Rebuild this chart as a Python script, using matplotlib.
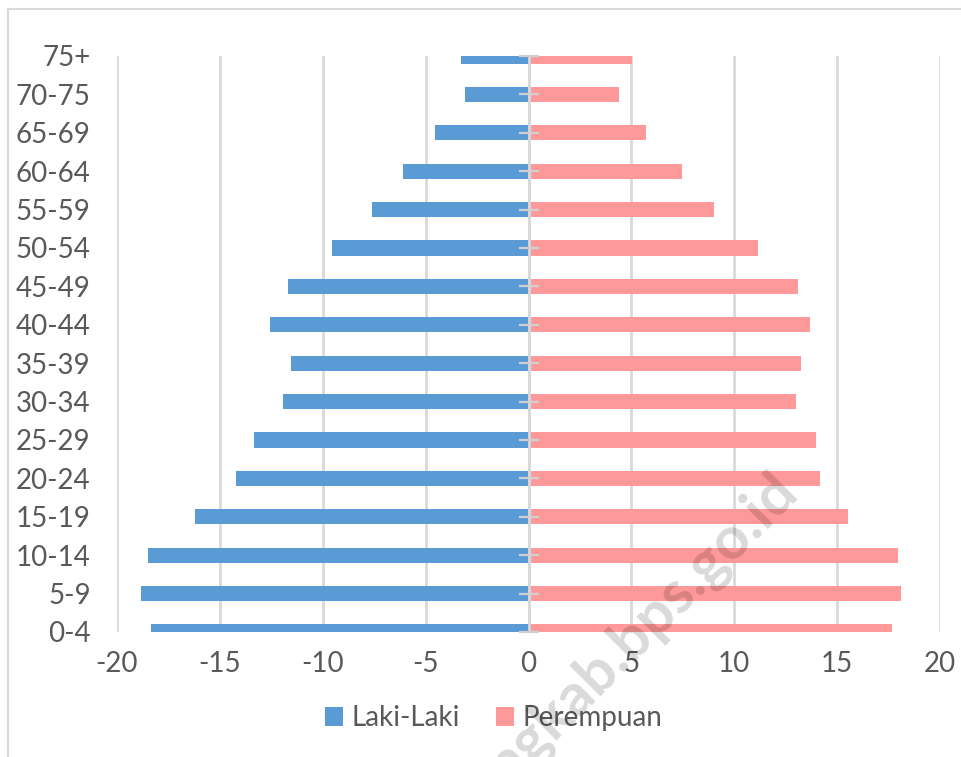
import numpy as np
import matplotlib
matplotlib.use('Agg')
import matplotlib.pyplot as plt
from matplotlib.patches import Rectangle

# age groups, bottom to top
groups = ['0-4', '5-9', '10-14', '15-19', '20-24', '25-29', '30-34', '35-39',
          '40-44', '45-49', '50-54', '55-59', '60-64', '65-69', '70-75', '75+']
laki = [-18.35, -18.83, -18.49, -16.2, -14.21, -13.33, -11.92, -11.53,
        -12.55, -11.68, -9.54, -7.59, -6.08, -4.53, -3.11, -3.26]
perempuan = [17.66, 18.1, 17.96, 15.52, 14.16, 13.97, 12.99, 13.24,
             13.67, 13.09, 11.14, 9.0, 7.45, 5.69, 4.38, 5.01]
xticks = [-20, -15, -10, -5, 0, 5, 10, 15, 20]

txt = '#595959'
grid = '#D9D9D9'
plt.rcParams['font.family'] = ['Lato', 'DejaVu Sans']

fig = plt.figure(figsize=(9.61, 7.57), dpi=100)
ax = fig.add_axes([117/961, 1-632/757, (940-117)/961, (632-56)/757])

y = np.arange(len(groups))
ax.barh(y, laki, height=0.4, color='#5B9BD5', label='Laki-Laki', zorder=2)
ax.barh(y, perempuan, height=0.4, color='#FF9999', label='Perempuan', zorder=2)

# category axis at x=0 with cross tick marks
ax.axvline(0, color=grid, lw=2, zorder=3)
ax.plot(np.zeros(len(y)), y, ls='none', marker='_', ms=14, mew=1.6,
        color='#D0D0D0', zorder=4, clip_on=False)

ax.set_xlim(-20, 20)
ax.set_ylim(0, len(groups) - 1)
ax.set_xticks(xticks)
ax.set_xticklabels([str(v) for v in xticks])
ax.set_yticks(y)
ax.set_yticklabels(groups)
ax.xaxis.grid(True, color=grid, lw=2, zorder=0)
ax.set_axisbelow(True)
for s in ax.spines.values():
    s.set_visible(False)
ax.tick_params(axis='x', length=0, pad=14, labelsize=20, labelcolor=txt)
ax.tick_params(axis='y', length=0, pad=19, labelsize=20, labelcolor=txt)

leg = fig.legend(loc='center', bbox_to_anchor=(494/961, 1-718/757), ncol=2,
                 frameon=False, fontsize=20, handlelength=0.65, handleheight=0.65,
                 handletextpad=0.3, columnspacing=1.3)
for t in leg.get_texts():
    t.set_color(txt)

# chart border
fig.patches.append(Rectangle((8/961, -0.1), 1.2, 1-9/757+0.1, transform=fig.transFigure,
                             fill=False, ec=grid, lw=1.5))

# watermark
fig.text(800/961, 1-494/757, 'ngkab.bps.go.id', rotation=45, rotation_mode='anchor',
         ha='right', va='baseline', fontsize=43, fontweight='bold', color='black',
         alpha=0.15, zorder=10)

fig.savefig('out.png', dpi=100)
